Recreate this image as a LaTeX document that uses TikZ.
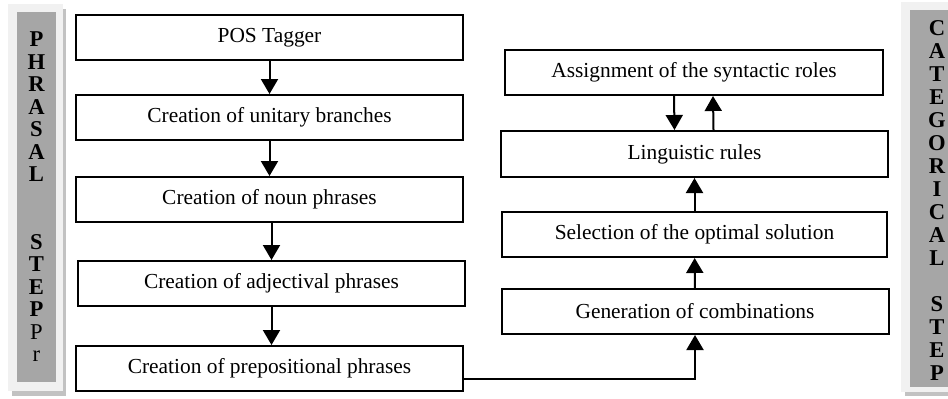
\documentclass[tikz,border=0pt]{standalone}
\usepackage{fontspec}
\setmainfont{Liberation Serif}
\usepackage{xcolor}
\usepackage{tikz}
\usetikzlibrary{arrows.meta}

\definecolor{barlight}{HTML}{F1F1F1}
\definecolor{bargray}{HTML}{A6A6A6}
\definecolor{barshade}{HTML}{C2C2C2}

\begin{document}
\begin{tikzpicture}[x=0.5pt,y=-0.5pt,>={Triangle[length=7.5pt,width=8.5pt]},line width=1pt]
	\tikzstyle{stage}=[draw, rectangle, inner sep=0pt, minimum width=193.5pt, minimum height=22.5pt, font=\fontsize{10.7}{12}\selectfont]
	\tikzstyle{letters}=[align=center, inner sep=0pt, font=\fontsize{11.3}{11.25}\selectfont\bfseries]
	\useasboundingbox (0,0) rectangle (948,398);
	\fill[barshade] (12,9) rectangle (66,396);
	\fill[barlight] (8,4) rectangle (63,391);
	\fill[bargray] (17,12) rectangle (56,382);
	\fill[barshade] (905,6) rectangle (952,396);
	\fill[barlight] (901,2) rectangle (952,392);
	\fill[bargray] (910,10) rectangle (952,387);
	\node[letters] (phrasal) at (36.5,196.75) {P\\H\\R\\A\\S\\A\\L\\~\\~\\S\\T\\E\\P\\\textmd{P}\\\textmd{r}};
	\node[letters, font=\fontsize{11.3}{11.5}\selectfont\bfseries] (categ) at (937,200.5) {C\\A\\T\\E\\G\\O\\R\\I\\C\\A\\L\\~\\S\\T\\E\\P};
	\node[stage] (pos)    at (269.5,37.5)  {POS Tagger};
	\node[stage] (unit)   at (269.5,117.5) {Creation of unitary branches};
	\node[stage] (noun)   at (269.5,199.5) {Creation of noun phrases};
	\node[stage] (adj)    at (271.5,283.5) {Creation of adjectival phrases};
	\node[stage] (prep)   at (269.5,368.5) {Creation of prepositional phrases};
	\node[stage, minimum width=189pt] (assign) at (694,72.5) {Assignment of the syntactic roles};
	\node[stage, minimum height=23pt] (ling)   at (694.5,154) {Linguistic rules};
	\node[stage, minimum width=192.5pt] (sel)  at (694.5,234.5) {Selection of the optimal solution};
	\node[stage] (gen)    at (695,311.5) {Generation of combinations};
	\path[->]
		(pos) edge (unit)
		(unit) edge (noun)
		(adj.north |- noun.south) edge (adj.north)
		(adj.south) edge (adj.south |- prep.north)
		([xshift=-10pt]assign.south) edge ([xshift=-10pt]ling.north)
		([xshift=9.5pt]ling.north) edge ([xshift=9.5pt]assign.south)
		(sel) edge (ling)
		(gen) edge (sel);
	\draw[->] ([yshift=-5pt]prep.east) -| (gen.south);
\end{tikzpicture}
\end{document}
